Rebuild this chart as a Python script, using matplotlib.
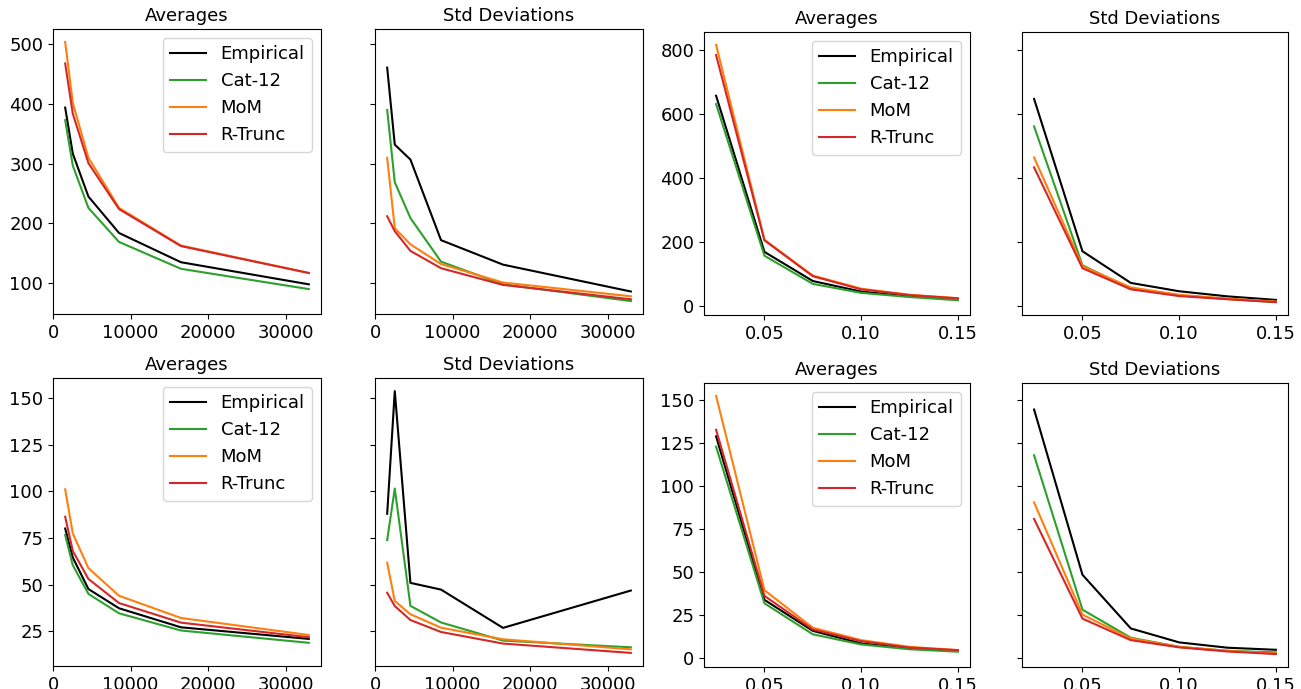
import matplotlib
matplotlib.use("Agg")
import matplotlib.pyplot as plt

W, H = 1301, 689

labels = ["Empirical", "Cat-12", "MoM", "R-Trunc"]
colors = ["black", "#2ca02c", "#ff7f0e", "#d62728"]

# x values
n_vals = [1550, 2530, 4550, 8500, 16500, 33000]
eps_vals = [0.025, 0.05, 0.075, 0.10, 0.125, 0.15]

# Row 1, left pair (vs n)
r1_avg_n = {
    "Empirical": [394, 317, 245, 184, 135, 98],
    "Cat-12":    [373, 297, 226, 169, 124, 90],
    "MoM":       [504, 402, 310, 226, 163, 117],
    "R-Trunc":   [468, 384, 301, 224, 162, 117],
}
r1_std_n = {
    "Empirical": [461, 332, 307, 172, 131, 86],
    "Cat-12":    [390, 269, 209, 136, 98, 70],
    "MoM":       [310, 192, 165, 132, 101, 78],
    "R-Trunc":   [212, 187, 154, 125, 97, 73],
}
# Row 1, right pair (vs eps)
r1_avg_e = {
    "Empirical": [657, 169, 78, 45, 30, 21],
    "Cat-12":    [631, 157, 69, 41, 28, 18],
    "MoM":       [816, 207, 95, 54, 35, 24],
    "R-Trunc":   [784, 205, 93, 52, 34, 24],
}
r1_std_e = {
    "Empirical": [647, 171, 72, 46, 30, 19],
    "Cat-12":    [561, 127, 54, 33, 22, 12],
    "MoM":       [464, 124, 58, 35, 23, 14],
    "R-Trunc":   [433, 118, 52, 31, 21, 12],
}
# Row 2, left pair (vs n)
r2_avg_n = {
    "Empirical": [80, 64.5, 47.6, 37.3, 27.1, 20.9],
    "Cat-12":    [76.5, 60.4, 45, 34.6, 25.4, 18.8],
    "MoM":       [101, 77.4, 58.8, 44, 32.1, 23],
    "R-Trunc":   [86.3, 68, 53, 40.1, 29.6, 21.8],
}
r2_std_n = {
    "Empirical": [87.9, 153.6, 50.9, 47.3, 26.8, 46.8],
    "Cat-12":    [73.8, 101.4, 38.6, 29.7, 20, 16.4],
    "MoM":       [61.7, 41.2, 34.1, 26.9, 20.7, 15.3],
    "R-Trunc":   [45.6, 38.5, 31, 24.6, 18.4, 13.4],
}
# Row 2, right pair (vs eps)
r2_avg_e = {
    "Empirical": [129, 34, 16, 8.7, 5.8, 4.4],
    "Cat-12":    [123, 32, 14, 8.1, 5.3, 3.9],
    "MoM":       [152.5, 39.6, 17.8, 10.6, 6.7, 4.8],
    "R-Trunc":   [132.8, 36.3, 16.8, 10, 6.3, 4.8],
}
r2_std_e = {
    "Empirical": [144.6, 48.6, 17.4, 9.3, 6.2, 5],
    "Cat-12":    [118, 28.3, 12, 6.7, 4.4, 3.5],
    "MoM":       [90.6, 25.4, 11.6, 6.7, 4.4, 2.9],
    "R-Trunc":   [81, 23.1, 10.6, 6.4, 4, 2.5],
}

FS = 13
plt.rcParams.update({
    "font.size": FS,
    "xtick.labelsize": FS,
    "ytick.labelsize": FS,
    "axes.titlesize": FS,
    "legend.fontsize": FS,
})

fig = plt.figure(figsize=(W / 100, H / 100), dpi=100)


def px_axes(l, t, r, b, sharey=None):
    return fig.add_axes([l / W, 1 - b / H, (r - l) / W, (b - t) / H], sharey=sharey)


def pair(l1, l2, width, t, b, x, avg, std, xticks=None):
    a1 = px_axes(l1, t, l1 + width, b)
    a2 = px_axes(l2, t, l2 + width, b, sharey=a1)
    for lab, col in zip(labels, colors):
        a1.plot(x, avg[lab], color=col, label=lab, lw=1.5)
        a2.plot(x, std[lab], color=col, label=lab, lw=1.5)
    a1.set_title("Averages")
    a2.set_title("Std Deviations")
    a1.legend(loc="upper right")
    plt.setp(a2.get_yticklabels(), visible=False)
    if xticks is not None:
        a1.set_xticks(xticks)
        a2.set_xticks(xticks)
    return a1, a2


pair(53, 375, 268, 29, 314, n_vals, r1_avg_n, r1_std_n, [0, 10000, 20000, 30000])
pair(704, 1022, 266, 32, 315, eps_vals, r1_avg_e, r1_std_e, [0.05, 0.10, 0.15])
pair(53, 375, 268, 378, 666, n_vals, r2_avg_n, r2_std_n, [0, 10000, 20000, 30000])
pair(704, 1022, 266, 383, 667, eps_vals, r2_avg_e, r2_std_e, [0.05, 0.10, 0.15])

fig.savefig("out.png", dpi=100)
